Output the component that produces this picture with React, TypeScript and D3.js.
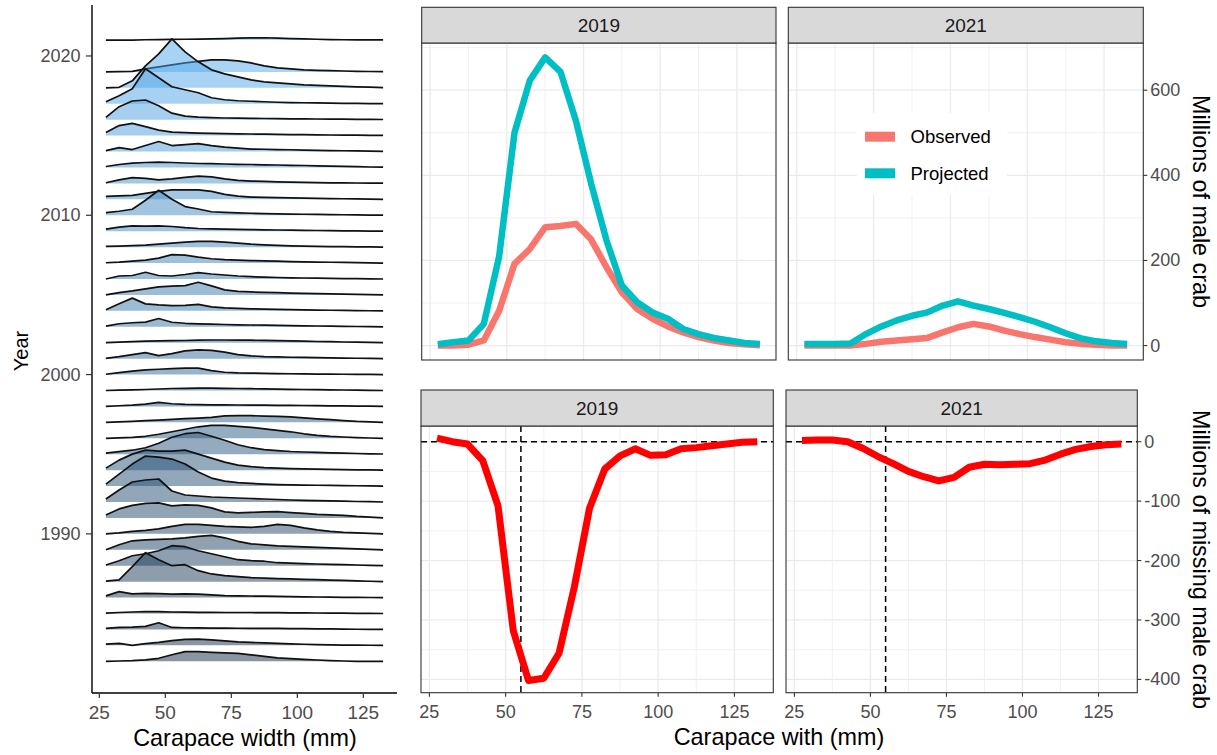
import React from 'react';
import * as d3 from 'd3';

// ---------- data ----------
const sizeBins = [27.5, 32.5, 37.5, 42.5, 47.5, 52.5, 57.5, 62.5, 67.5, 72.5, 77.5, 82.5, 87.5, 92.5, 97.5, 102.5, 107.5, 112.5, 117.5, 122.5, 127.5, 132.5];

// survey years drawn in the ridgeline panel (top to bottom; no 2020 survey)
const ridgeYears = [2021, 2019, 2018, 2017, 2016, 2015, 2014, 2013, 2012, 2011, 2010, 2009, 2008, 2007, 2006, 2005, 2004, 2003, 2002, 2001, 2000, 1999, 1998, 1997, 1996, 1995, 1994, 1993, 1992, 1991, 1990, 1989, 1988, 1987, 1986, 1985, 1984, 1983, 1982];

// scaled density per size bin, one row per year (same order as ridgeYears)
const ridgeDensity = [
  [0, 0, 0, 0.3, 0.5, 0.7, 0.8, 1, 1.2, 1.5, 2, 2.2, 2.3, 2, 1.5, 1.2, 0.8, 0.5, 0.3, 0.2, 0.1, 0.1],
  [0, 0.2, 0.5, 3, 5, 7, 9, 10.5, 12, 12, 11, 9, 6, 4, 3, 2, 1.5, 1.2, 0.9, 0.6, 0.4, 0.2],
  [0, 0.5, 7, 22, 34, 49, 36, 26, 18, 14, 11, 8, 6, 5, 4, 3, 2.5, 2, 1.5, 1, 0.7, 0.3],
  [2, 8, 15, 35, 26, 17, 14, 11, 6, 4, 3, 2.5, 2, 1.5, 1.2, 1, 0.8, 0.6, 0.4, 0.3, 0.2, 0.1],
  [2.3, 13, 18.7, 19.7, 14, 6.5, 3.5, 2.5, 2, 1.7, 1.5, 1.3, 1.2, 1, 0.9, 0.8, 0.7, 0.6, 0.5, 0.4, 0.3, 0.2],
  [3, 10, 12.3, 9, 5.5, 3.5, 3, 2.5, 2.2, 2, 1.8, 1.6, 1.4, 1.2, 1, 0.9, 0.8, 0.6, 0.5, 0.4, 0.3, 0.2],
  [1, 4, 2, 6, 10, 6, 7, 8, 6, 4.5, 3.5, 2.5, 2.3, 2, 1.8, 1.5, 1.2, 1, 0.8, 0.6, 0.4, 0.2],
  [1, 3, 4.3, 5, 5.3, 5, 4.5, 4, 3.8, 3.5, 3.2, 3, 2.7, 2.5, 2.2, 2, 1.7, 1.4, 1.1, 0.8, 0.5, 0.3],
  [0.7, 3.5, 5.7, 5, 3.5, 4.5, 6, 7.3, 6.5, 4.5, 3, 2.3, 2, 1.5, 1.2, 1, 0.8, 0.6, 0.5, 0.4, 0.3, 0.2],
  [3, 3.5, 4, 6, 8, 9.5, 9.5, 9.5, 8, 5, 3.3, 2.3, 2, 1.7, 1.4, 1.2, 1, 0.8, 0.6, 0.4, 0.2, 0],
  [2.7, 4, 6, 15, 25, 16, 8.7, 6.3, 3.5, 2.8, 2.3, 2, 1.6, 1.4, 1.2, 1, 0.8, 0.6, 0.5, 0.3, 0.2, 0.1],
  [2, 4, 5.3, 5, 5.3, 4.7, 3.5, 2.7, 2.3, 2, 1.8, 1.6, 1.4, 1.2, 1, 0.8, 0.7, 0.5, 0.4, 0.3, 0.1, 0],
  [0.7, 1, 1.5, 2, 3, 4, 5, 5.7, 5.7, 5, 4, 3, 2.3, 1.7, 1.3, 1, 0.8, 0.6, 0.5, 0.3, 0.2, 0.1],
  [0.3, 1, 2, 3, 5, 8.5, 8, 6, 4.3, 3.5, 3, 2.5, 2.2, 2, 1.5, 1.2, 1, 0.8, 0.6, 0.4, 0.2, 0],
  [0, 3, 3.5, 6.7, 3.5, 3, 4.5, 6.3, 5, 4, 3, 2.3, 1.8, 1.5, 1.2, 1, 0.8, 0.6, 0.4, 0.3, 0.1, 0],
  [0, 2.3, 4, 6, 8, 8.7, 9.3, 12.7, 9, 5, 3.5, 3, 2.5, 2.2, 1.8, 1.5, 1.2, 1, 0.7, 0.5, 0.3, 0],
  [1, 7, 12.7, 7, 6, 5.3, 5.5, 6.5, 4, 3, 2.5, 2, 1.8, 1.5, 1.2, 1, 0.8, 0.6, 0.4, 0.3, 0.1, 0],
  [0.7, 3, 4, 4.7, 8.3, 4.5, 3.5, 3, 2.7, 2.3, 2, 1.8, 1.6, 1.4, 1.2, 1, 0.8, 0.6, 0.5, 0.3, 0.2, 0],
  [0, 0.5, 1, 1.5, 1.8, 2, 2.2, 2.5, 2.7, 2.7, 2.6, 2.5, 2.3, 2, 1.8, 1.5, 1.2, 1, 0.7, 0.5, 0.3, 0],
  [0.3, 2, 4, 6, 3, 5, 7.7, 8.7, 8.3, 6.5, 4, 2.8, 2, 1.7, 1.4, 1.2, 1, 0.8, 0.6, 0.4, 0.2, 0],
  [0.3, 2, 3.5, 4.7, 5.3, 6, 6.5, 6.5, 4, 2.3, 1.7, 1.5, 1.2, 1, 0.8, 0.6, 0.5, 0.4, 0.3, 0.2, 0.1, 0],
  [0, 0.3, 0.7, 1, 1.5, 2, 2.2, 2.3, 2.3, 2.2, 2, 1.8, 1.6, 1.4, 1.2, 1, 0.8, 0.6, 0.5, 0.4, 0.2, 0],
  [0, 0.7, 1.3, 2.3, 4, 2.7, 2, 1.8, 1.6, 1.5, 1.4, 1.3, 1.2, 1.1, 1, 0.9, 0.8, 0.6, 0.5, 0.3, 0.2, 0],
  [0, 0.5, 1, 1.7, 2.3, 3, 3.7, 4.3, 5, 6.5, 6.7, 6.7, 6.3, 6, 5.5, 4.5, 3.5, 2.7, 1.8, 1, 0.5, 0],
  [0, 0.5, 1, 2, 4, 6.5, 9, 11.5, 13, 13, 12, 11, 9.5, 8, 6.5, 4.5, 3, 2, 1.3, 0.7, 0.3, 0],
  [1, 2.5, 4, 6.5, 11, 17, 20.5, 21.7, 18, 14, 9.5, 6.5, 4.5, 3.5, 2.7, 2.2, 1.8, 1.4, 1, 0.7, 0.4, 0.2],
  [2, 10, 16, 20, 19, 19, 20, 16, 12, 8, 5, 3.5, 2.5, 2, 1.5, 1.2, 1, 0.8, 0.5, 0.3, 0.2, 0],
  [2, 12, 22, 30, 29, 27, 22, 14, 8, 5, 3.5, 2.7, 2, 1.5, 1.2, 1, 0.8, 0.6, 0.4, 0.3, 0.1, 0],
  [3, 12, 20, 22, 23, 11, 7, 6, 5, 4.5, 4, 3.5, 3, 2.5, 2, 1.7, 1.4, 1.1, 0.8, 0.5, 0.3, 0],
  [3, 9, 12.5, 14.5, 15, 12, 13, 12.5, 10, 6, 5, 5.5, 6, 6.3, 5.3, 4.5, 3.5, 3, 2.5, 1.5, 0.8, 0],
  [0, 1, 2.5, 3.5, 5, 7.5, 9.5, 9.5, 8.5, 7.5, 7, 6.5, 7.5, 9.5, 8.5, 6, 4, 2.5, 1.5, 1, 0.4, 0],
  [0, 5, 9, 10, 10.5, 11, 12, 13.5, 14.5, 12, 8.5, 6, 5, 4, 3.5, 3, 2.5, 2, 1.5, 1, 0.5, 0],
  [0.7, 5, 10, 12, 15, 20, 19, 15, 12, 9, 6, 5, 4.5, 3, 2.5, 2, 1.7, 1.3, 1, 0.7, 0.3, 0],
  [0.5, 1.7, 15, 29, 22, 16, 17, 11, 7.7, 6, 5, 4, 3.5, 3, 2.7, 2.3, 2, 1.6, 1.2, 0.8, 0.4, 0],
  [1.7, 6, 3.7, 4.3, 4, 3.5, 3.7, 3.5, 2.7, 2, 1.8, 1.6, 1.4, 1.2, 1, 0.8, 0.6, 0.5, 0.3, 0.2, 0.1, 0],
  [0.3, 1, 1.5, 2, 1.8, 1.5, 1.3, 1.2, 1.1, 1, 1, 1, 0.9, 0.8, 0.7, 0.6, 0.5, 0.4, 0.3, 0.2, 0.1, 0],
  [1, 2, 2.3, 3, 6.7, 2, 1.7, 1.5, 1.4, 1.3, 1.2, 1.1, 1, 1, 0.9, 0.8, 0.6, 0.5, 0.3, 0.2, 0.1, 0],
  [1.3, 2, 0, 1.7, 3, 4.7, 6, 6.3, 5.5, 4.5, 3.5, 3, 2.5, 2, 1.5, 1.1, 0.8, 0.5, 0.3, 0.2, 0.1, 0],
  [0, 0.3, 0.7, 1.5, 3, 6.5, 9.7, 9.7, 9, 8.5, 8, 6.5, 5, 3.5, 2.7, 2, 1.3, 0.7, 0.3, 0, 0, 0],
];

const yearTicks = [1990, 2000, 2010, 2020];
const widthTicks = [25, 50, 75, 100, 125];
const widthMinor = [37.5, 62.5, 87.5, 112.5];

const facetYears = ['2019', '2021'];
const observed2019 = [0, 0, 2, 12, 82, 192, 227, 278, 281, 286, 249, 184, 125, 86, 63, 45, 31, 20, 12, 6, 3, 1];
const projected2019 = [3, 8, 12, 51, 210, 500, 623, 677, 643, 529, 380, 247, 141, 102, 78, 63, 39, 27, 18, 12, 6, 4];
const observed2021 = [0, 0, 0, 0, 4, 9, 12, 15, 18, 31, 43, 51, 45, 35, 27, 20, 14, 8, 4, 2, 0, 0];
const projected2021 = [4, 4, 4, 5, 27, 45, 59, 70, 78, 94, 104, 94, 86, 77, 67, 56, 43, 29, 17, 10, 6, 4];
const missing2019 = [6, 0, -4, -32, -108, -318, -402, -398, -356, -245, -112, -46, -24, -12, -23, -22, -12, -10, -7, -4, -1, 0];
const missing2021 = [2, 3, 3, 0, -11, -25, -37, -50, -59, -66, -60, -43, -38, -39, -38, -37, -31, -21, -13, -8, -5, -4];

const abundanceTicks = [0, 200, 400, 600];
const abundanceMinor = [100, 300, 500, 700];
const missingTicks = [0, -100, -200, -300, -400];
const missingMinor = [-50, -150, -250, -350];
const seriesNames = ['Observed', 'Projected'];
const seriesColors = ['#F8766D', '#00BFC4'];
const maturityLine = 55;

const FONT = "'Liberation Sans', Arial, Helvetica, sans-serif";
const GRID = '#ebebeb';
const AXIS_TXT = '#4d4d4d';

function expand(vals: number[]): [number, number] {
  const lo = d3.min(vals) as number;
  const hi = d3.max(vals) as number;
  const r = hi - lo;
  return [lo - r * 0.05, hi + r * 0.05];
}

type PanelProps = {
  x0: number; x1: number; y0: number; y1: number; stripTop: number;
  label: string;
  yScale: d3.ScaleLinear<number, number>;
  yMajor: number[]; yMinor: number[];
  showRightAxis: boolean; showBottomAxis: boolean;
  children: (xs: d3.ScaleLinear<number, number>) => React.ReactNode;
};

const xDomain = expand(sizeBins);

function Panel(p: PanelProps) {
  const xs = d3.scaleLinear().domain(xDomain).range([p.x0, p.x1]);
  const fmt = (v: number) => (v < 0 ? '-' + Math.abs(v) : String(v));
  return (
    <g>
      <rect x={p.x0} y={p.y0} width={p.x1 - p.x0} height={p.y1 - p.y0} fill="#fff" />
      {p.yMinor.filter(v => p.yScale(v) > p.y0 && p.yScale(v) < p.y1).map(v => (
        <line key={'ym' + v} x1={p.x0} x2={p.x1} y1={p.yScale(v)} y2={p.yScale(v)} stroke={GRID} strokeWidth={0.7} />
      ))}
      {widthMinor.map(v => (
        <line key={'xm' + v} x1={xs(v)} x2={xs(v)} y1={p.y0} y2={p.y1} stroke={GRID} strokeWidth={0.7} />
      ))}
      {p.yMajor.map(v => (
        <line key={'yM' + v} x1={p.x0} x2={p.x1} y1={p.yScale(v)} y2={p.yScale(v)} stroke={GRID} strokeWidth={1.3} />
      ))}
      {widthTicks.map(v => (
        <line key={'xM' + v} x1={xs(v)} x2={xs(v)} y1={p.y0} y2={p.y1} stroke={GRID} strokeWidth={1.3} />
      ))}
      {p.children(xs)}
      <rect x={p.x0} y={p.y0} width={p.x1 - p.x0} height={p.y1 - p.y0} fill="none" stroke="#333333" strokeWidth={1.1} />
      <rect x={p.x0} y={p.stripTop} width={p.x1 - p.x0} height={p.y0 - p.stripTop} fill="#d9d9d9" stroke="#333333" strokeWidth={1.1} />
      <text x={(p.x0 + p.x1) / 2} y={(p.stripTop + p.y0) / 2} textAnchor="middle" dominantBaseline="central"
        fontSize={19} fill="#1a1a1a" fontFamily={FONT}>{p.label}</text>
      {p.showRightAxis && p.yMajor.map(v => (
        <g key={'ra' + v}>
          <line x1={p.x1} x2={p.x1 + 4} y1={p.yScale(v)} y2={p.yScale(v)} stroke="#333333" strokeWidth={1.1} />
          <text x={p.x1 + 7} y={p.yScale(v)} dominantBaseline="central" fontSize={18} fill={AXIS_TXT} fontFamily={FONT}>{fmt(v)}</text>
        </g>
      ))}
      {p.showBottomAxis && widthTicks.map(v => (
        <g key={'ba' + v}>
          <line x1={xs(v)} x2={xs(v)} y1={p.y1} y2={p.y1 + 4} stroke="#333333" strokeWidth={1.1} />
          <text x={xs(v)} y={p.y1 + 25.5} textAnchor="middle" fontSize={18} fill={AXIS_TXT} fontFamily={FONT}>{v}</text>
        </g>
      ))}
    </g>
  );
}

export default function App() {
  // ----- left ridgeline panel -----
  const xL = d3.scaleLinear().domain([25, 125]).range([99.3, 363.3]);
  const yYear = d3.scaleLinear().domain([1982, 2019]).range([661.3, 71.9]);
  const hRidge = d3.scaleLinear().domain([0, 10]).range([0, 10]);
  const fillScale = d3.scaleLinear<string>().domain([1982, 2021]).range(['#132B43', '#56B1F7']).interpolate(d3.interpolateRgb);

  const ridges = ridgeYears.map((yr, k) => {
    const base = yYear(yr);
    const area = d3.area<number>()
      .x((_, i) => xL(sizeBins[i]))
      .y0(base)
      .y1(d => base - hRidge(d));
    const line = d3.line<number>()
      .x((_, i) => xL(sizeBins[i]))
      .y(d => base - hRidge(d));
    const vals = ridgeDensity[k];
    return (
      <g key={yr}>
        <path d={area(vals) || ''} fill={fillScale(yr)} fillOpacity={0.5} stroke="none" />
        <path d={line(vals) || ''} fill="none" stroke="#111" strokeWidth={1.7} strokeLinejoin="round" />
      </g>
    );
  });

  // ----- facet panels -----
  const yTop = d3.scaleLinear().domain(expand([...observed2019, ...projected2019, ...observed2021, ...projected2021])).range([360, 43]);
  const yBot = d3.scaleLinear().domain(expand([...missing2019, ...missing2021])).range([692.7, 426]);

  const topSeries = [[observed2019, projected2019], [observed2021, projected2021]];
  const missSeries = [missing2019, missing2021];
  const topX = [[421.7, 776], [788.3, 1143.3]];
  const botX = [[421, 773.3], [786, 1137.3]];

  const lineFor = (xs: d3.ScaleLinear<number, number>, ys: d3.ScaleLinear<number, number>) =>
    d3.line<number>().x((_, i) => xs(sizeBins[i])).y(d => ys(d));

  return (
    <svg width={1217} height={755} style={{ position: 'absolute', left: 0, top: 0, background: '#fff' }}
      fontFamily={FONT}>
      <rect x={0} y={0} width={1217} height={755} fill="#fff" />
      {/* ridgeline */}
      {ridges}
      <line x1={92} x2={92} y1={5} y2={693} stroke="#000" strokeWidth={1.4} />
      <line x1={92} x2={397} y1={693} y2={693} stroke="#000" strokeWidth={1.4} />
      {yearTicks.map(yv => (
        <g key={'yt' + yv}>
          <line x1={86} x2={92} y1={yYear(yv)} y2={yYear(yv)} stroke="#333" strokeWidth={1.2} />
          <text x={80.5} y={yYear(yv)} textAnchor="end" dominantBaseline="central" fontSize={18} fill={AXIS_TXT}>{yv}</text>
        </g>
      ))}
      {widthTicks.map(v => (
        <g key={'xt' + v}>
          <line x1={xL(v)} x2={xL(v)} y1={693} y2={698} stroke="#333" strokeWidth={1.2} />
          <text x={xL(v)} y={718.5} textAnchor="middle" fontSize={19} fill={AXIS_TXT}>{v}</text>
        </g>
      ))}
      <text x={245} y={746} textAnchor="middle" fontSize={23.4} fill="#000">Carapace width (mm)</text>
      <text transform="translate(27.5,351) rotate(-90)" textAnchor="middle" fontSize={20} fill="#000">Year</text>

      {/* top facets */}
      {facetYears.map((lab, k) => (
        <Panel key={'top' + lab} x0={topX[k][0]} x1={topX[k][1]} y0={43} y1={360} stripTop={7.3} label={lab}
          yScale={yTop} yMajor={abundanceTicks} yMinor={abundanceMinor}
          showRightAxis={k === 1} showBottomAxis={false}>
          {xs => (
            <g>
              {k === 1 && <rect x={857} y={113} width={150} height={82} fill="#fff" />}
              {topSeries[k].map((vals, s) => (
                <path key={s} d={lineFor(xs, yTop)(vals) || ''} fill="none" stroke={seriesColors[s]}
                  strokeWidth={6.5} strokeLinejoin="round" />
              ))}
            </g>
          )}
        </Panel>
      ))}

      {/* legend */}
      {seriesNames.map((nm, s) => (
        <g key={'lg' + nm}>
          <line x1={865} x2={895} y1={136.7 + s * 36.6} y2={136.7 + s * 36.6} stroke={seriesColors[s]} strokeWidth={10} />
          <text x={910.5} y={136.7 + s * 36.6} dominantBaseline="central" fontSize={18.5} fill="#000">{nm}</text>
        </g>
      ))}

      {/* bottom facets */}
      {facetYears.map((lab, k) => (
        <Panel key={'bot' + lab} x0={botX[k][0]} x1={botX[k][1]} y0={426} y1={692.7} stripTop={390} label={lab}
          yScale={yBot} yMajor={missingTicks} yMinor={missingMinor}
          showRightAxis={k === 1} showBottomAxis={true}>
          {xs => (
            <g>
              <line x1={xs(maturityLine)} x2={xs(maturityLine)} y1={426} y2={692.7} stroke="#000" strokeWidth={1.5} strokeDasharray="6,4" />
              <line x1={botX[k][0]} x2={botX[k][1]} y1={yBot(0)} y2={yBot(0)} stroke="#000" strokeWidth={1.5} strokeDasharray="6,4" />
              <path d={lineFor(xs, yBot)(missSeries[k]) || ''} fill="none" stroke="#FF0000" strokeWidth={7} strokeLinejoin="round" />
            </g>
          )}
        </Panel>
      ))}

      <text x={779} y={745} textAnchor="middle" fontSize={23.4} fill="#000">Carapace with (mm)</text>
      <text transform="translate(1193,201.5) rotate(90)" textAnchor="middle" fontSize={23.4} fill="#000">Millions of male crab</text>
      <text transform="translate(1193,559.4) rotate(90)" textAnchor="middle" fontSize={23.4} fill="#000">Millions of missing male crab</text>
    </svg>
  );
}
